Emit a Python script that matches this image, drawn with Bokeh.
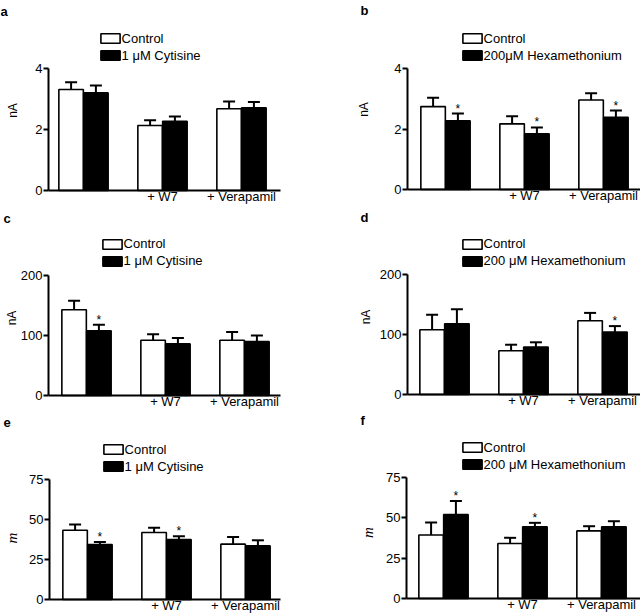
import math
from bokeh.plotting import figure
from bokeh.models import (Range1d, FixedTicker, Whisker, TeeHead, ColumnDataSource,
                          Label, Legend, LegendItem)
from bokeh.layouts import gridplot
from bokeh.embed import file_html
from bokeh.resources import INLINE
from bokeh.core.properties import value

# ---------------- data ----------------
group_labels = ["", "+ W7", "+ Verapamil"]

a_control = [3.31, 2.13, 2.68]
a_control_sem = [0.24, 0.17, 0.24]
a_treat = [3.20, 2.27, 2.71]
a_treat_sem = [0.24, 0.16, 0.19]
a_sig = [False, False, False]

b_control = [2.74, 2.17, 2.96]
b_control_sem = [0.29, 0.25, 0.22]
b_treat = [2.27, 1.84, 2.39]
b_treat_sem = [0.24, 0.21, 0.22]
b_sig = [True, True, True]

c_control = [143, 92, 92]
c_control_sem = [15, 10, 14]
c_treat = [108, 86, 90]
c_treat_sem = [10, 10, 10]
c_sig = [True, False, False]

d_control = [108, 73, 123]
d_control_sem = [25, 10, 13]
d_treat = [118, 79, 104]
d_treat_sem = [24, 8, 10]
d_sig = [False, False, True]

e_control = [43.3, 41.9, 34.6]
e_control_sem = [3.6, 2.9, 4.5]
e_treat = [34.4, 37.5, 33.5]
e_treat_sem = [1.6, 2.1, 3.5]
e_sig = [True, True, False]

f_control = [39.4, 34.1, 41.9]
f_control_sem = [7.7, 3.5, 2.9]
f_treat = [52.1, 44.4, 44.4]
f_treat_sem = [8.4, 2.5, 3.5]
f_sig = [True, True, False]

ticks_nA_small = [0, 2, 4]
ticks_nA_large = [0, 100, 200]
ticks_m = [0, 25, 50, 75]

FONT = "Liberation Sans"
W = 320
PITCH = 79.0  # pixels per group

# layout (pixels inside each panel)
panels = [
    dict(letter="a", col=0, H=205, ctrl=a_control, ctrl_sem=a_control_sem, trt=a_treat, trt_sem=a_treat_sem,
         sig=a_sig, ticks=ticks_nA_small, ylabel="nA", italic=False, treat_label="1 \u03bcM Cytisine",
         axis_px=48, g0_px=83, ytop=68, y0=190, letter_pos=(0, 11), leg=(100, 38), ylab=(12, 110)),
    dict(letter="b", col=1, H=205, ctrl=b_control, ctrl_sem=b_control_sem, trt=b_treat, trt_sem=b_treat_sem,
         sig=b_sig, ticks=ticks_nA_small, ylabel="nA", italic=False, treat_label="200\u03bcM Hexamethonium",
         axis_px=87, g0_px=125, ytop=68, y0=189, letter_pos=(40, 10), leg=(142, 38), ylab=(43.5, 109)),
    dict(letter="c", col=0, H=205, ctrl=c_control, ctrl_sem=c_control_sem, trt=c_treat, trt_sem=c_treat_sem,
         sig=c_sig, ticks=ticks_nA_large, ylabel="nA", italic=False, treat_label="1 \u03bcM Cytisine",
         axis_px=48, g0_px=86, ytop=70, y0=190, letter_pos=(3, 13), leg=(102, 38.5), ylab=(11.5, 112.5)),
    dict(letter="d", col=1, H=205, ctrl=d_control, ctrl_sem=d_control_sem, trt=d_treat, trt_sem=d_treat_sem,
         sig=d_sig, ticks=ticks_nA_large, ylabel="nA", italic=False, treat_label="200 \u03bcM Hexamethonium",
         axis_px=87, g0_px=124, ytop=69, y0=189, letter_pos=(40, 12), leg=(142, 38.5), ylab=(45, 111.5)),
    dict(letter="e", col=0, H=203, ctrl=e_control, ctrl_sem=e_control_sem, trt=e_treat, trt_sem=e_treat_sem,
         sig=e_sig, ticks=ticks_m, ylabel="m", italic=True, treat_label="1 \u03bcM Cytisine",
         axis_px=49, g0_px=87, ytop=69, y0=189, letter_pos=(3, 12), leg=(103, 39), ylab=(11.5, 127.5)),
    dict(letter="f", col=1, H=203, ctrl=f_control, ctrl_sem=f_control_sem, trt=f_treat, trt_sem=f_treat_sem,
         sig=f_sig, ticks=ticks_m, ylabel="m", italic=True, treat_label="200 \u03bcM Hexamethonium",
         axis_px=86, g0_px=123, ytop=67, y0=188, letter_pos=(40, 10), leg=(142, 37), ylab=(47.5, 122)),
]


def make_panel(s):
    H = s["H"]
    ymax = s["ticks"][-1]
    # ranges chosen so that the frame spans the whole canvas
    x_start = -s["g0_px"] / PITCH
    x_end = (W - s["g0_px"]) / PITCH
    axis_x = (s["axis_px"] - s["g0_px"]) / PITCH
    xaxis_end = (280 - s["g0_px"]) / PITCH if s["col"] == 0 else x_end
    yscale = ymax / (s["y0"] - s["ytop"])
    y_start = -(H - s["y0"]) * yscale
    y_end = ymax + s["ytop"] * yscale

    p = figure(width=W, height=H, output_backend="svg", toolbar_location=None,
               x_range=Range1d(x_start, x_end), y_range=Range1d(y_start, y_end),
               min_border_left=0, min_border_right=0, min_border_top=0, min_border_bottom=0)
    p.outline_line_color = None
    p.grid.visible = False
    p.background_fill_color = "white"
    p.border_fill_color = "white"

    xs = list(range(len(s["ctrl"])))
    off, bw = 0.157, 0.31
    src = ColumnDataSource(dict(
        xc=[x - off for x in xs], xt=[x + off for x in xs],
        ctrl=s["ctrl"], ctrl_top=[v + e for v, e in zip(s["ctrl"], s["ctrl_sem"])],
        trt=s["trt"], trt_top=[v + e for v, e in zip(s["trt"], s["trt_sem"])],
    ))
    r1 = p.vbar(x="xc", top="ctrl", bottom=0, width=bw, source=src,
                fill_color="white", line_color="black", line_width=1.6)
    r2 = p.vbar(x="xt", top="trt", bottom=0, width=bw, source=src,
                fill_color="black", line_color="black", line_width=1.6)
    for base, lo, up in (("xc", "ctrl", "ctrl_top"), ("xt", "trt", "trt_top")):
        w = Whisker(source=src, base=base, lower=lo, upper=up, line_color="black", line_width=2,
                    upper_head=TeeHead(size=12, line_width=2, line_color="black"), lower_head=None)
        p.add_layout(w)

    sx = [x + off for x, g in zip(xs, s["sig"]) if g]
    sy = [v + e for v, e, g in zip(s["trt"], s["trt_sem"], s["sig"]) if g]
    if sx:
        p.text(x=sx, y=sy, text=["*"] * len(sx), text_font=value(FONT), text_font_size="12px",
               text_align="center", text_baseline="alphabetic", y_offset=-5, text_color="black")

    # axes
    ya = p.yaxis[0]
    ya.fixed_location = axis_x
    ya.bounds = (0, ymax)
    ya.ticker = FixedTicker(ticks=s["ticks"])
    ya.major_tick_out = 5
    ya.major_tick_in = 0
    ya.minor_tick_out = 0
    ya.minor_tick_in = 0
    ya.axis_line_width = 2
    ya.major_tick_line_width = 1.8
    ya.major_label_text_font = FONT
    ya.major_label_text_font_size = "13px"
    ya.major_label_text_color = "black"
    ya.major_label_standoff = 1

    xa = p.xaxis[0]
    xa.fixed_location = 0
    xa.bounds = (axis_x, xaxis_end)
    xa.ticker = FixedTicker(ticks=[1, 2])
    xa.major_label_overrides = {1: group_labels[1], 2: group_labels[2]}
    xa.major_tick_out = 0
    xa.major_tick_in = 0
    xa.minor_tick_out = 0
    xa.minor_tick_in = 0
    xa.axis_line_width = 2
    xa.major_label_text_font = FONT
    xa.major_label_text_font_size = "13px"
    xa.major_label_text_color = "black"
    xa.major_label_standoff = -2

    # legend
    bx, lc = s["leg"]
    legend = Legend(items=[LegendItem(label="Control", renderers=[r1]),
                           LegendItem(label=s["treat_label"], renderers=[r2])],
                    location=(bx - 2.4, H - (lc + 24.5)), orientation="vertical",
                    padding=0, margin=0, spacing=2, glyph_width=24, glyph_height=12,
                    label_standoff=0, label_height=15,
                    label_text_font=FONT, label_text_font_size="13px", label_text_color="black",
                    border_line_color=None, background_fill_alpha=0)
    p.add_layout(legend)

    # panel letter
    tx, ty = s["letter_pos"]
    p.add_layout(Label(x=tx, y=H - ty, x_units="screen", y_units="screen",
                       text=s["letter"], text_font=FONT, text_font_size="13px",
                       text_font_style="bold", text_color="black",
                       text_align="left", text_baseline="alphabetic"))

    # y axis title
    qx, qy = s["ylab"]
    p.add_layout(Label(x=qx, y=H - qy, x_units="screen", y_units="screen",
                       text=s["ylabel"], angle=math.pi / 2,
                       text_font="Liberation Serif" if s["italic"] else FONT,
                       text_font_size="15px" if s["italic"] else "12px",
                       text_font_style="italic" if s["italic"] else "normal",
                       text_color="black", text_align="center", text_baseline="middle"))
    return p


figs = [make_panel(s) for s in panels]
grid = gridplot([[figs[0], figs[1]], [figs[2], figs[3]], [figs[4], figs[5]]],
                toolbar_location=None)

open("out.html", "w").write(file_html(grid, INLINE))
